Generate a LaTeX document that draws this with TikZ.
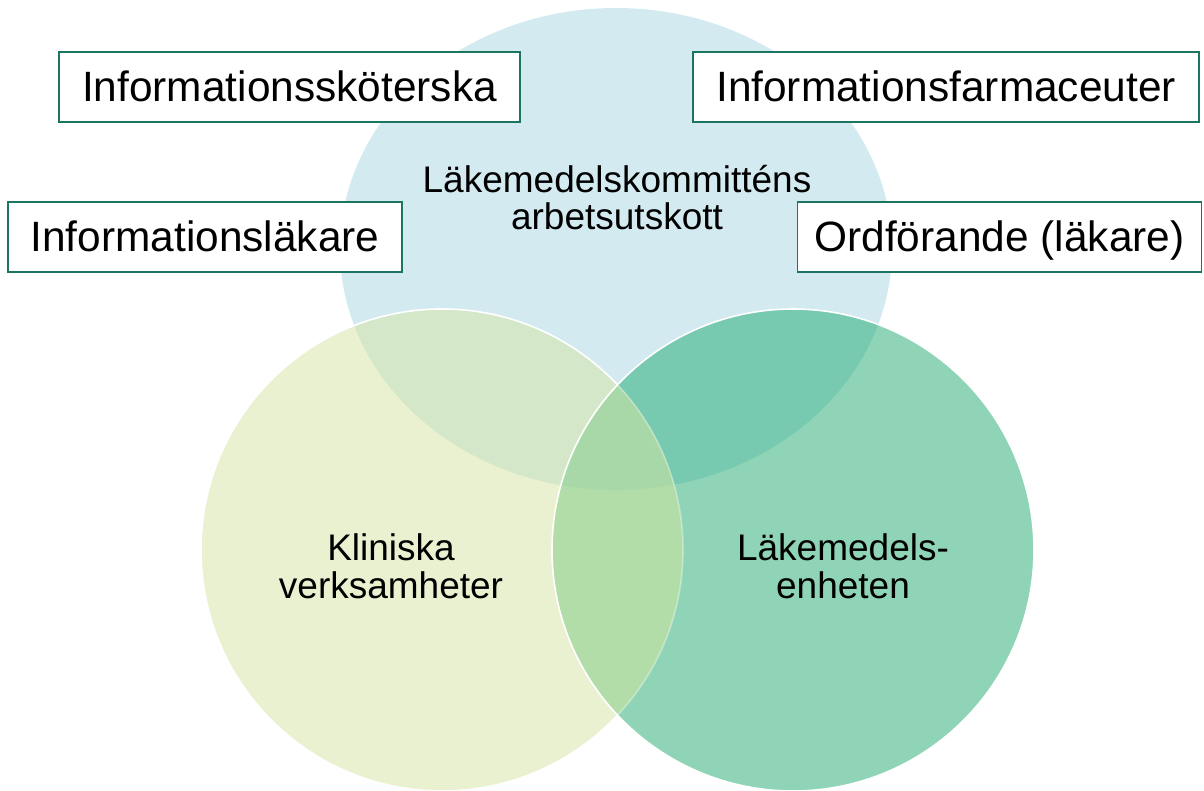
\documentclass[tikz,border=0pt]{standalone}
\usepackage{fontspec}
\setmainfont{Liberation Sans}
\definecolor{topc}{HTML}{D2EAF0}
\definecolor{leftc}{HTML}{EAF1D0}
\definecolor{rightc}{HTML}{8FD4B6}
\definecolor{ltc}{HTML}{D4E7C8}
\definecolor{rtc}{HTML}{77CAB0}
\definecolor{lrc}{HTML}{B2DDA9}
\definecolor{tric}{HTML}{A8D8A7}
\definecolor{boxc}{HTML}{1B7560}
\begin{document}
\begin{tikzpicture}[x=1pt,y=-1pt,
  rolebox/.style={draw=boxc, line width=1.5pt, fill=white, inner sep=0pt,
    text height=38pt, text depth=8pt, minimum height=70pt,
    font=\fontsize{42.4}{50}\selectfont},
  lbl/.style={anchor=base, inner sep=0pt, font=\fontsize{37}{37}\selectfont},
  rim/.style={draw=white, line width=1.6pt}]
\useasboundingbox (0,0) rectangle (1204,791);
% top ellipse
\fill[topc] (616,249) ellipse [x radius=276pt, y radius=241pt];
% left circle
\fill[leftc] (442,550) circle [radius=241pt];
\begin{scope}
  \clip (616,249) ellipse [x radius=276pt, y radius=241pt];
  \fill[ltc] (442,550) circle [radius=241pt];
\end{scope}
\draw[rim] (442,550) circle [radius=241pt];
% right circle
\fill[rightc] (793,550) circle [radius=241pt];
\begin{scope}
  \clip (793,550) circle [radius=241pt];
  \fill[rtc] (616,249) ellipse [x radius=276pt, y radius=241pt];
  \fill[lrc] (442,550) circle [radius=241pt];
  \clip (442,550) circle [radius=241pt];
  \fill[tric] (616,249) ellipse [x radius=276pt, y radius=241pt];
\end{scope}
\begin{scope}
  \clip (793,550) circle [radius=241pt];
  \draw[draw=white, draw opacity=0.35, line width=1.6pt] (442,550) circle [radius=241pt];
\end{scope}
\draw[rim] (793,550) circle [radius=241pt];
% boxes
\node[rolebox, minimum width=461pt] (b1) at (289.5,87) {Informationssköterska};
\node[rolebox, minimum width=394pt] (b2) at (205,237) {Informationsläkare};
\node[rolebox, minimum width=506pt] (b3) at (946,87) {Informationsfarmaceuter};
\node[rolebox, minimum width=404pt] (b4) at (999.5,237) {Ordförande (läkare)};
% circle labels
\node[lbl] (t1) at (617,193) {Läkemedelskommitténs};
\node[lbl] (t2) at (617,230) {arbetsutskott};
\node[lbl] (k1) at (391,560) {Kliniska};
\node[lbl] (k2) at (391,598) {verksamheter};
\node[lbl] (l1) at (843,560) {Läkemedels-};
\node[lbl] (l2) at (843,598) {enheten};
\end{tikzpicture}
\end{document}
